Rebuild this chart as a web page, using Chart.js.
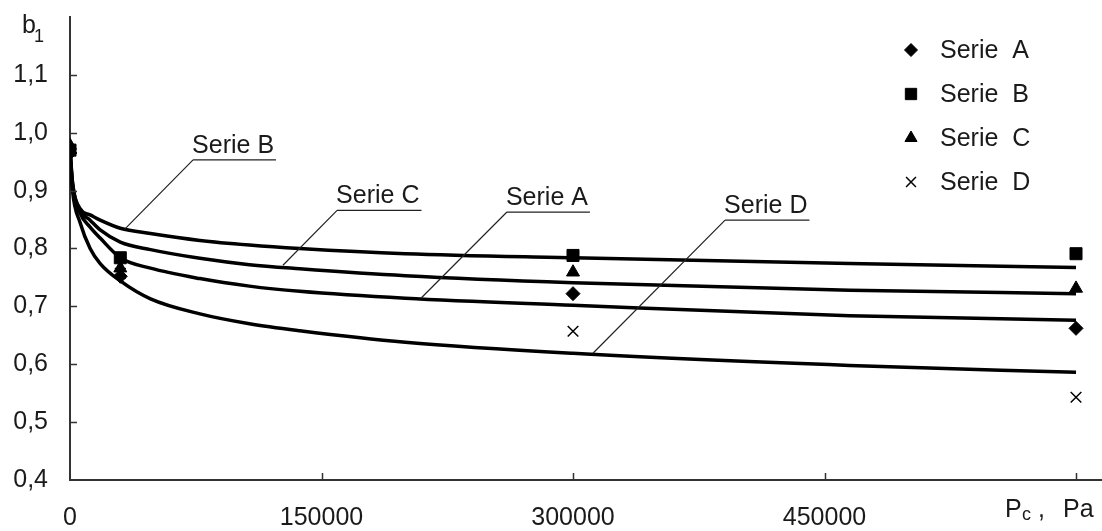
<!DOCTYPE html>
<html>
<head>
<meta charset="utf-8">
<script src="https://cdn.jsdelivr.net/npm/chart.js@4/dist/chart.umd.min.js"></script>
<style>
  html, body { margin: 0; padding: 0; background: #fff; }
  #wrap { width: 1102px; height: 531px; }
</style>
</head>
<body>
<div id="wrap"><canvas id="chart" width="1102" height="531"></canvas></div>
<script>
// measured points (b1 vs Pc)
const pressures = [0, 30000, 300000, 600000];
const serieA = [0.965, 0.752, 0.722, 0.662];
const serieB = [0.970, 0.784, 0.788, 0.791];
const serieC = [0.978, 0.766, 0.759, 0.731];
const serieD = [0.970, 0.757, 0.657, 0.543];

// trend curves
const trendX = [0, 1500, 6000, 12000, 18000, 30000, 48000, 77500, 107000, 137000, 200000, 300000, 465000, 600000];
const trendA = [0.968, 0.908, 0.861, 0.837, 0.818, 0.784, 0.766, 0.748, 0.735, 0.726, 0.714, 0.702, 0.684, 0.676];
const trendB = [0.972, 0.915, 0.869, 0.858, 0.849, 0.835, 0.826, 0.814, 0.806, 0.800, 0.791, 0.784, 0.774, 0.767];
const trendC = [0.970, 0.912, 0.866, 0.849, 0.832, 0.811, 0.798, 0.783, 0.772, 0.765, 0.753, 0.741, 0.728, 0.722];
const trendD = [0.966, 0.900, 0.845, 0.800, 0.774, 0.744, 0.713, 0.687, 0.670, 0.658, 0.638, 0.619, 0.598, 0.586];

const seriesNames = ["Serie A", "Serie B", "Serie C", "Serie D"];

// axis ticks
const xTickValues = [0, 150000, 300000, 450000, 600000];
const xTickLabels = ["0", "150000", "300000", "450000", ""];
const yTickValues = [0.4, 0.5, 0.6, 0.7, 0.8, 0.9, 1.0, 1.1];
const yTickLabels = ["0,4", "0,5", "0,6", "0,7", "0,8", "0,9", "1,0", "1,1"];

const callouts = [
  { text: "Serie B", x: 73400, y: 0.953, toX: 32800, toY: 0.834 },
  { text: "Serie C", x: 159300, y: 0.866, toX: 127000, toY: 0.771 },
  { text: "Serie A", x: 260600, y: 0.863, toX: 209300, toY: 0.714 },
  { text: "Serie D", x: 390700, y: 0.849, toX: 311900, toY: 0.619 },
];

const FONT = "'Liberation Sans', Arial, sans-serif";
const INK = "#1a1a1a";

const toPoints = (xs, ys) => xs.map((x, i) => ({ x: x, y: ys[i] }));

const markerStyle = (name, values, style, radius, extra) => Object.assign({
  label: name,
  data: toPoints(pressures, values),
  pointStyle: style,
  pointRadius: radius,
  pointBackgroundColor: "#000",
  pointBorderColor: "#000",
  pointBorderWidth: 1,
  showLine: false,
  isMarker: true,
}, extra || {});

const trendStyle = (values) => ({
  label: "",
  data: toPoints(trendX, values),
  showLine: true,
  borderColor: "#000",
  borderWidth: 3.5,
  pointRadius: 0,
  cubicInterpolationMode: "monotone",
  isMarker: false,
});

const markerDefs = [
  markerStyle(seriesNames[0], serieA, "rectRot", 7),
  markerStyle(seriesNames[1], serieB, "rect", 8.5),
  markerStyle(seriesNames[2], serieC, "triangle", 7.5),
  markerStyle(seriesNames[3], serieD, "crossRot", 7.5, { pointBorderWidth: 1.5 }),
];

const paintPoint = (ctx, ds, x, y) => {
  ctx.fillStyle = "#000";
  ctx.strokeStyle = "#000";
  ctx.lineWidth = ds.pointBorderWidth;
  const opts = { pointStyle: ds.pointStyle, radius: ds.pointRadius - 0.5, rotation: 0, borderWidth: ds.pointBorderWidth };
  if (Chart.helpers && Chart.helpers.drawPoint) {
    Chart.helpers.drawPoint(ctx, opts, x, y);
  }
};

const extras = {
  id: "extras",
  afterDraw(chart) {
    const { ctx, chartArea, scales } = chart;
    const xs = scales.x, ys = scales.y;
    ctx.save();

    // inward tick marks
    ctx.strokeStyle = "#333";
    ctx.lineWidth = 1.5;
    ctx.beginPath();
    xs.ticks.forEach((t) => {
      if (t.value <= 0) return;
      const px = Math.round(xs.getPixelForValue(t.value)) + 0.5;
      ctx.moveTo(px, chartArea.bottom);
      ctx.lineTo(px, chartArea.bottom - 7);
    });
    ys.ticks.forEach((t) => {
      if (t.value < 0.45) return;
      const py = Math.round(ys.getPixelForValue(t.value)) + 0.5;
      ctx.moveTo(chartArea.left, py);
      ctx.lineTo(chartArea.left + 7, py);
    });
    ctx.stroke();

    // axis titles: b1 and Pc , Pa
    ctx.fillStyle = INK;
    ctx.textBaseline = "alphabetic";
    ctx.textAlign = "left";
    const bx = chartArea.left - 48, by = chartArea.top + 16;
    ctx.font = "25px " + FONT;
    ctx.fillText("b", bx, by);
    ctx.font = "18px " + FONT;
    ctx.fillText("1", bx + 12, by + 9);

    const px = xs.getPixelForValue(600000) - 71, py = chartArea.bottom + 37;
    ctx.font = "25px " + FONT;
    ctx.fillText("P", px, py);
    ctx.font = "18px " + FONT;
    ctx.fillText("c", px + 17, py + 3);
    ctx.font = "25px " + FONT;
    ctx.fillText(",", px + 33, py);
    ctx.fillText("Pa", px + 58, py);

    // callouts with leader lines
    callouts.forEach((c) => {
      const sx = xs.getPixelForValue(c.x), sy = ys.getPixelForValue(c.y);
      const tx = xs.getPixelForValue(c.toX), ty = ys.getPixelForValue(c.toY);
      ctx.font = "25px " + FONT;
      const w = ctx.measureText(c.text).width;
      ctx.fillStyle = INK;
      ctx.fillText(c.text, sx - 1, sy - 7);
      ctx.strokeStyle = "#222";
      ctx.lineWidth = 1.2;
      ctx.beginPath();
      ctx.moveTo(sx, sy);
      ctx.lineTo(sx + w + 1, sy);
      ctx.moveTo(sx, sy);
      ctx.lineTo(tx, ty);
      ctx.stroke();
    });

    // legend, top right inside plot
    const lx = chartArea.right - 191, ly = chartArea.top + 33;
    chart.data.datasets.filter((d) => d.isMarker).forEach((d, i) => {
      const rowY = ly + i * 44;
      paintPoint(ctx, d, lx, rowY);
      ctx.fillStyle = INK;
      ctx.font = "25px " + FONT;
      ctx.fillText(d.label.replace(" ", "  "), lx + 29, rowY + 8);
    });

    ctx.restore();
  },
};

const ctx = document.getElementById("chart").getContext("2d");
new Chart(ctx, {
  type: "scatter",
  data: {
    datasets: markerDefs.concat([trendStyle(trendB), trendStyle(trendC), trendStyle(trendA), trendStyle(trendD)]),
  },
  options: {
    responsive: false,
    devicePixelRatio: 1,
    animation: false,
    layout: { autoPadding: false, padding: { top: 17, right: 0, left: 0, bottom: 0 } },
    plugins: {
      legend: { display: false },
      tooltip: { enabled: false },
    },
    scales: {
      x: {
        type: "linear",
        min: 0,
        max: 615500,
        afterBuildTicks: (scale) => { scale.ticks = xTickValues.map((v) => ({ value: v })); },
        afterFit: (scale) => {
          scale.height = 51;
          scale.paddingLeft = 0;
          scale.paddingRight = 0;
        },
        border: { display: true, color: "#333", width: 2 },
        grid: { display: false, drawTicks: false },
        ticks: {
          maxRotation: 0,
          autoSkip: false,
          padding: 23,
          color: INK,
          font: { family: FONT, size: 25 },
          callback: (v, i) => xTickLabels[i],
        },
      },
      y: {
        type: "linear",
        min: 0.4,
        max: 1.2,
        afterBuildTicks: (scale) => { scale.ticks = yTickValues.map((v) => ({ value: v })); },
        afterFit: (scale) => {
          scale.width = 70;
          scale.paddingTop = 0;
          scale.paddingBottom = 0;
        },
        border: { display: true, color: "#333", width: 2 },
        grid: { display: false, drawTicks: false },
        ticks: {
          autoSkip: false,
          padding: 22,
          color: INK,
          font: { family: FONT, size: 25 },
          callback: (v, i) => yTickLabels[i],
        },
      },
    },
  },
  plugins: [extras],
});
</script>
</body>
</html>
